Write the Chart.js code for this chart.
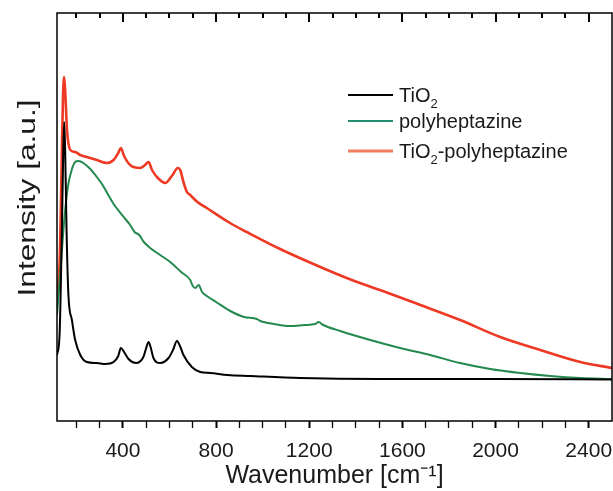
<!DOCTYPE html>
<html>
<head>
<meta charset="utf-8">
<script src="https://cdn.jsdelivr.net/npm/chart.js@4.4.0/dist/chart.umd.min.js"></script>
<style>
html, body { margin: 0; padding: 0; background: #fff; }
#wrap { width: 613px; height: 491px; }
</style>
</head>
<body>
<div id="wrap"><canvas id="raman"></canvas></div>
<script>
// Raman spectra, wavenumber [cm-1] vs intensity [a.u.]
var tio2Wave = [117, 128, 138, 144, 148, 152, 158, 166, 181, 195, 217, 245, 288, 324, 360, 380, 391, 405, 424, 457, 488, 500, 510, 520, 531, 560, 596, 615, 632, 645, 660, 696, 732, 775, 850, 946, 1161, 1500, 2000, 2500];
var tio2Int = [66, 86, 191, 271, 299, 271, 191, 126, 101, 81, 66, 59, 58, 57, 59, 65, 73, 69, 62, 58, 64, 73, 79, 73, 63, 58, 63, 71, 80, 75, 66, 54, 49, 48, 46, 45, 43, 42, 42, 41.5];

var phWave = [117, 135, 150, 165, 180, 195, 209, 230, 260, 288, 310, 330, 360, 400, 431, 450, 470, 490, 517, 560, 603, 650, 689, 700, 711, 725, 740, 760, 800, 861, 920, 975, 990, 1050, 1118, 1180, 1226, 1240, 1260, 1333, 1462, 1590, 1719, 1848, 1977, 2106, 2235, 2364, 2500];
var phInt = [106, 161, 206, 236, 251, 259, 260, 258, 252, 244, 237, 229, 217, 205, 196, 189, 186, 179, 173, 166, 159, 149, 141, 135, 133, 136, 129, 125, 119, 110, 104, 102, 100, 97, 95, 96, 97, 99, 96, 90, 81, 73, 66, 58, 52, 48, 45, 43, 42];

var mixWave = [117, 130, 138, 143, 148, 153, 160, 174, 195, 217, 245, 288, 331, 360, 380, 391, 405, 431, 474, 495, 510, 525, 550, 582, 610, 636, 646, 660, 675, 689, 720, 760, 860, 932, 1075, 1218, 1361, 1504, 1677, 1848, 2020, 2192, 2364, 2500];
var mixInt = [121, 171, 271, 326, 344, 326, 291, 271, 269, 266, 264, 261, 258, 261, 268, 273, 265, 256, 253, 256, 259, 251, 243, 238, 245, 253, 251, 239, 229, 226, 219, 213, 198, 189, 172, 157, 143, 131, 116, 101, 84, 71, 59, 53];

var seriesNames = ['TiO₂', 'polyheptazine', 'TiO₂-polyheptazine'];
var seriesColors = ['#000000', '#24894e', '#ee3a24'];
var legendColors = ['#000000', '#229070', '#f07e60'];
var xTicks = [400, 800, 1200, 1600, 2000, 2400];
var minorTicks = [200, 300, 400, 500, 600, 700, 800, 900, 1000, 1100, 1200, 1300, 1400, 1500, 1600, 1700, 1800, 1900, 2000, 2100, 2200, 2300, 2400];
var xMin = 117, xMax = 2500;

function pts(xs, ys) {
    return xs.map(function (x, i) { return {x: x, y: ys[i]}; });
}

var fontFam = '"Liberation Sans", Arial, sans-serif';

// axes box, inner top ticks, legend and rotated y title
var frame = {
    id: 'frame',
    afterDraw: function (chart) {
        var ctx = chart.ctx, a = chart.chartArea, xs = chart.scales.x;
        ctx.save();
        ctx.strokeStyle = '#000';
        ctx.lineWidth = 1.5;
        ctx.strokeRect(a.left, a.top, a.right - a.left, a.bottom - a.top);

        ctx.fillStyle = '#000';
        minorTicks.forEach(function (w) {
            var px = xs.getPixelForValue(w);
            if (!isFinite(px)) px = a.left + (w - xMin) / (xMax - xMin) * (a.right - a.left);
            var len = xTicks.indexOf(w) >= 0 ? 9 : 5;
            ctx.fillRect(Math.round(px) - 1, a.top, 2, len);
        });

        // legend
        var ly = [95, 121, 151];
        chart.data.datasets.forEach(function (ds, i) {
            ctx.strokeStyle = legendColors[i];
            ctx.lineWidth = i === 2 ? 3 : 2.2;
            ctx.beginPath();
            ctx.moveTo(348, ly[i]); ctx.lineTo(393, ly[i]);
            ctx.stroke();
            var parts = seriesNames[i].split('₂');
            var tx = 399, base = ly[i] + 6.5;
            ctx.fillStyle = '#1a1a1a';
            ctx.textBaseline = 'alphabetic';
            ctx.textAlign = 'left';
            parts.forEach(function (p, j) {
                ctx.font = '20px ' + fontFam;
                ctx.fillText(p, tx, base);
                tx += ctx.measureText(p).width;
                if (j < parts.length - 1) {
                    ctx.font = '13px ' + fontFam;
                    ctx.fillText('2', tx, base + 6);
                    tx += ctx.measureText('2').width;
                }
            });
        });

        // y title, stretched like the original
        var yt = 'Intensity [a.u.]';
        ctx.font = '23px ' + fontFam;
        var tw = ctx.measureText(yt).width;
        ctx.translate(29, 198);
        ctx.rotate(-Math.PI / 2);
        ctx.scale(197 / tw, 1);
        ctx.textAlign = 'center';
        ctx.textBaseline = 'middle';
        ctx.fillStyle = '#1a1a1a';
        ctx.fillText(yt, 0, 0);
        ctx.restore();
    }
};

new Chart(document.getElementById('raman'), {
    type: 'line',
    data: {
        datasets: [
            {label: seriesNames[0], data: pts(tio2Wave, tio2Int), borderColor: seriesColors[0], borderWidth: 2},
            {label: seriesNames[1], data: pts(phWave, phInt), borderColor: seriesColors[1], borderWidth: 2},
            {label: seriesNames[2], data: pts(mixWave, mixInt), borderColor: seriesColors[2], borderWidth: 2.6}
        ]
    },
    options: {
        responsive: true,
        maintainAspectRatio: false,
        animation: false,
        elements: {
            point: {radius: 0},
            line: {cubicInterpolationMode: 'monotone', fill: false}
        },
        layout: {padding: {left: 57, top: 13, right: 1, bottom: 0}},
        plugins: {legend: {display: false}, tooltip: {enabled: false}},
        scales: {
            x: {
                type: 'linear',
                min: xMin,
                max: xMax,
                afterBuildTicks: function (scale) {
                    scale.ticks = minorTicks.map(function (v) { return {value: v}; });
                },
                afterFit: function (scale) {
                    scale.height = 70;
                    scale.paddingLeft = 0;
                    scale.paddingRight = 0;
                },
                grid: {
                    display: true,
                    drawOnChartArea: false,
                    drawTicks: true,
                    tickLength: 7,
                    tickColor: '#000',
                    tickWidth: function (c) {
                        return c.tick && xTicks.indexOf(c.tick.value) >= 0 ? 2 : 1.3;
                    }
                },
                border: {display: false},
                ticks: {
                    padding: 11,
                    autoSkip: false,
                    color: '#1a1a1a',
                    font: {family: fontFam, size: 21},
                    maxRotation: 0,
                    callback: function (v) { return xTicks.indexOf(v) >= 0 ? String(v) : ''; }
                },
                title: {
                    display: true,
                    text: 'Wavenumber [cm⁻¹]',
                    color: '#1a1a1a',
                    font: {family: fontFam, size: 25, lineHeight: 1},
                    padding: {top: 2, bottom: 2}
                }
            },
            y: {
                display: false,
                min: 0,
                max: 408
            }
        }
    },
    plugins: [frame]
});
</script>
</body>
</html>
